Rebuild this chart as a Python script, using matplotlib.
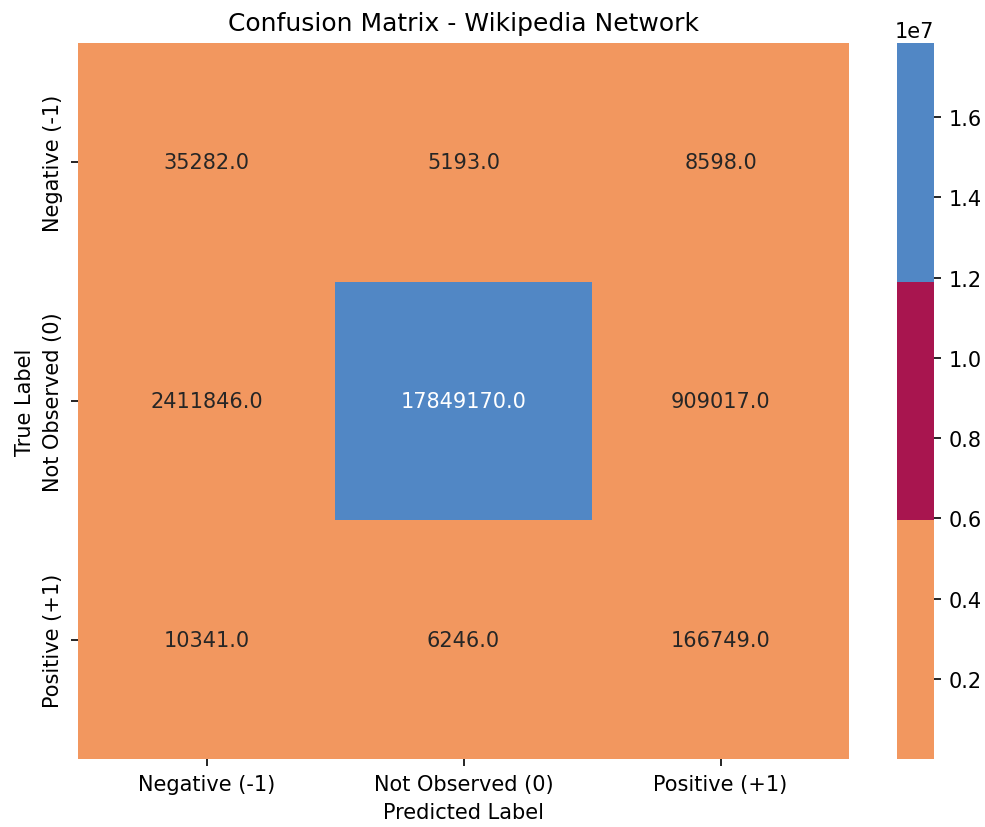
import numpy as np
import matplotlib.pyplot as plt
import seaborn as sns
from matplotlib.colors import ListedColormap

# class labels and confusion counts (rows = true, cols = predicted)
labels = ['Negative (-1)', 'Not Observed (0)', 'Positive (+1)']
row_neg = [35282.0, 5193.0, 8598.0]
row_zero = [2411846.0, 17849170.0, 909017.0]
row_pos = [10341.0, 6246.0, 166749.0]

cm = np.array([row_neg, row_zero, row_pos])

cmap = ListedColormap(['#F2975F', '#A8154F', '#5187C5'])

fig = plt.figure(figsize=(985 / 150, 828 / 150), dpi=150)
ax = fig.add_axes([0.0792, 0.0821, 0.7828, 0.8648])
cax = fig.add_axes([0.9107, 0.0821, 0.0376, 0.8648])

sns.heatmap(cm, annot=True, fmt='.1f', cmap=cmap,
            xticklabels=labels, yticklabels=labels,
            ax=ax, cbar_ax=cax)
cax.tick_params(labelsize=10)
for s in cax.spines.values():
    s.set_visible(False)

ax.set_title('Confusion Matrix - Wikipedia Network', fontsize=12)
ax.set_xlabel('Predicted Label', fontsize=10)
ax.set_ylabel('True Label', fontsize=10)

fig.savefig('out.png', dpi=150)
